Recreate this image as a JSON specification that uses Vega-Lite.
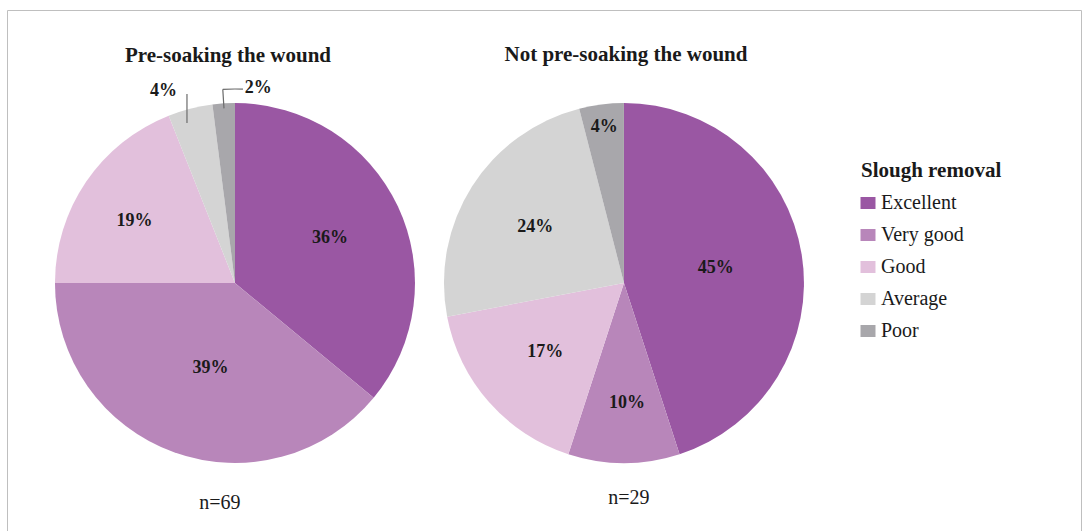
{
  "$schema": "https://vega.github.io/schema/vega-lite/v6.json",
  "width": 1074,
  "height": 546,
  "autosize": {"type": "none"},
  "padding": {"left": 7, "top": 10, "right": 4, "bottom": 0},
  "background": "white",
  "config": {
    "font": "Liberation Serif",
    "view": {"stroke": "#bfbfbf", "strokeWidth": 1},
    "text": {"color": "#1a1a1a"}
  },
  "datasets": {
    "shares": [
      {"group": "Pre-soaking the wound", "rating": "Excellent", "rank": 1, "pct": 36},
      {"group": "Pre-soaking the wound", "rating": "Very good", "rank": 2, "pct": 39},
      {"group": "Pre-soaking the wound", "rating": "Good", "rank": 3, "pct": 19},
      {"group": "Pre-soaking the wound", "rating": "Average", "rank": 4, "pct": 4},
      {"group": "Pre-soaking the wound", "rating": "Poor", "rank": 5, "pct": 2},
      {"group": "Not pre-soaking the wound", "rating": "Excellent", "rank": 1, "pct": 45},
      {"group": "Not pre-soaking the wound", "rating": "Very good", "rank": 2, "pct": 10},
      {"group": "Not pre-soaking the wound", "rating": "Good", "rank": 3, "pct": 17},
      {"group": "Not pre-soaking the wound", "rating": "Average", "rank": 4, "pct": 24},
      {"group": "Not pre-soaking the wound", "rating": "Poor", "rank": 5, "pct": 4}
    ],
    "panels": [
      {"group": "Pre-soaking the wound", "n": "n=69"},
      {"group": "Not pre-soaking the wound", "n": "n=29"}
    ]
  },
  "layer": [
    {
      "data": {"name": "shares"},
      "transform": [
        {"stack": "pct", "groupby": ["group"], "sort": [{"field": "rank", "order": "ascending"}], "as": ["p0", "p1"]},
        {"calculate": "(datum.p0 + datum.p1) / 2", "as": "pmid"},
        {"calculate": "datum.pct + '%'", "as": "label"}
      ],
      "layer": [
        {
          "mark": {"type": "arc", "radius": 180},
          "encoding": {
            "x": {
              "field": "group",
              "type": "nominal",
              "axis": null,
              "scale": {
                "type": "point",
                "domain": ["Pre-soaking the wound", "Not pre-soaking the wound"],
                "padding": 0.8805,
                "align": 0.3328
              }
            },
            "theta": {"field": "p0", "type": "quantitative", "stack": null, "scale": {"domain": [0, 100]}},
            "theta2": {"field": "p1"},
            "color": {
              "field": "rating",
              "type": "nominal",
              "scale": {
                "domain": ["Excellent", "Very good", "Good", "Average", "Poor"],
                "range": ["#9a57a3", "#b886ba", "#e2c0dc", "#d4d4d4", "#a8a7ab"]
              },
              "legend": {
                "title": "Slough removal",
                "orient": "none",
                "legendX": 854,
                "legendY": 150,
                "padding": 0,
                "symbolType": "M-1,-0.8H1V0.8H-1Z",
                "symbolSize": 225,
                "symbolStrokeWidth": 0,
                "symbolOpacity": 1,
                "symbolOffset": -3,
                "titleFontSize": 21,
                "titleFontWeight": "bold",
                "titleColor": "#1a1a1a",
                "titlePadding": 12,
                "labelFontSize": 20,
                "labelColor": "#1a1a1a",
                "labelOffset": 3,
                "rowPadding": 12
              }
            }
          }
        },
        {
          "transform": [{"filter": "datum.group === 'Pre-soaking the wound' && datum.rating === 'Very good'"}],
          "mark": {"type": "text", "fontSize": 18, "fontWeight": "bold", "align": "center", "baseline": "middle", "dx": 6},
          "encoding": {
            "x": {"field": "group", "type": "nominal", "axis": null},
            "theta": {"field": "pmid", "type": "quantitative", "stack": null},
            "radius": {"value": 90},
            "text": {"field": "label"}
          }
        },
        {
          "transform": [{"filter": "datum.group === 'Not pre-soaking the wound' && datum.rating === 'Excellent'"}],
          "mark": {"type": "text", "fontSize": 18, "fontWeight": "bold", "align": "center", "baseline": "middle"},
          "encoding": {
            "x": {"field": "group", "type": "nominal", "axis": null},
            "theta": {"field": "pmid", "type": "quantitative", "stack": null},
            "radius": {"value": 93},
            "text": {"field": "label"}
          }
        },
        {
          "transform": [{"filter": "(datum.group === 'Pre-soaking the wound' && datum.rating === 'Excellent') || (datum.group === 'Not pre-soaking the wound' && (datum.rating === 'Good' || datum.rating === 'Average'))"}],
          "mark": {"type": "text", "fontSize": 18, "fontWeight": "bold", "align": "center", "baseline": "middle"},
          "encoding": {
            "x": {"field": "group", "type": "nominal", "axis": null},
            "theta": {"field": "pmid", "type": "quantitative", "stack": null},
            "radius": {"value": 105},
            "text": {"field": "label"}
          }
        },
        {
          "transform": [{"filter": "datum.group === 'Pre-soaking the wound' && datum.rating === 'Good'"}],
          "mark": {"type": "text", "fontSize": 18, "fontWeight": "bold", "align": "center", "baseline": "middle", "dx": -2, "dy": 5},
          "encoding": {
            "x": {"field": "group", "type": "nominal", "axis": null},
            "theta": {"field": "pmid", "type": "quantitative", "stack": null},
            "radius": {"value": 119},
            "text": {"field": "label"}
          }
        },
        {
          "transform": [{"filter": "datum.group === 'Not pre-soaking the wound' && datum.rating === 'Very good'"}],
          "mark": {"type": "text", "fontSize": 18, "fontWeight": "bold", "align": "center", "baseline": "middle", "dx": 3},
          "encoding": {
            "x": {"field": "group", "type": "nominal", "axis": null},
            "theta": {"field": "pmid", "type": "quantitative", "stack": null},
            "radius": {"value": 120},
            "text": {"field": "label"}
          }
        },
        {
          "transform": [{"filter": "datum.group === 'Not pre-soaking the wound' && datum.rating === 'Poor'"}],
          "mark": {"type": "text", "fontSize": 18, "fontWeight": "bold", "align": "center", "baseline": "middle"},
          "encoding": {
            "x": {"field": "group", "type": "nominal", "axis": null},
            "theta": {"field": "pmid", "type": "quantitative", "stack": null},
            "radius": {"value": 157},
            "text": {"field": "label"}
          }
        },
        {
          "transform": [{"filter": "datum.group === 'Pre-soaking the wound' && datum.rating === 'Average'"}],
          "layer": [
            {
              "mark": {"type": "point", "shape": "M0,-1V1", "size": 841, "filled": false, "opacity": 1, "stroke": "#6b6b6b", "strokeWidth": 1.2, "xOffset": -48, "yOffset": -174.5},
              "encoding": {
                "x": {"field": "group", "type": "nominal", "axis": null}
              }
            },
            {
              "mark": {"type": "text", "fontSize": 18, "fontWeight": "bold", "align": "center", "baseline": "middle", "dx": -23, "dy": -3},
              "encoding": {
                "x": {"field": "group", "type": "nominal", "axis": null},
                "theta": {"field": "pmid", "type": "quantitative", "stack": null},
                "radius": {"value": 195},
                "text": {"field": "label"}
              }
            }
          ]
        },
        {
          "transform": [{"filter": "datum.group === 'Pre-soaking the wound' && datum.rating === 'Poor'"}],
          "layer": [
            {
              "mark": {"type": "arc", "radius": 194, "radius2": 175, "stroke": "#6b6b6b", "strokeWidth": 1.2, "fillOpacity": 0},
              "encoding": {
                "x": {"field": "group", "type": "nominal", "axis": null},
                "theta": {"field": "pmid", "type": "quantitative", "stack": null},
                "theta2": {"field": "pmid"}
              }
            },
            {
              "mark": {"type": "arc", "radius": 194, "radius2": 194, "theta2Offset": 0.104, "stroke": "#6b6b6b", "strokeWidth": 1.2, "fillOpacity": 0},
              "encoding": {
                "x": {"field": "group", "type": "nominal", "axis": null},
                "theta": {"field": "pmid", "type": "quantitative", "stack": null},
                "theta2": {"field": "pmid"}
              }
            },
            {
              "mark": {"type": "text", "fontSize": 18, "fontWeight": "bold", "align": "left", "baseline": "middle", "dx": 22, "dy": -1},
              "encoding": {
                "x": {"field": "group", "type": "nominal", "axis": null},
                "theta": {"field": "pmid", "type": "quantitative", "stack": null},
                "radius": {"value": 194},
                "text": {"field": "label"}
              }
            }
          ]
        }
      ]
    },
    {
      "data": {"name": "panels"},
      "layer": [
        {
          "transform": [{"filter": "datum.group === 'Pre-soaking the wound'"}],
          "layer": [
            {
              "mark": {"type": "text", "fontSize": 21, "fontWeight": "bold", "align": "center", "baseline": "alphabetic", "dx": -7},
              "encoding": {
                "x": {"field": "group", "type": "nominal", "axis": null},
                "theta": {"value": 0},
                "radius": {"value": 221},
                "text": {"field": "group"}
              }
            },
            {
              "mark": {"type": "text", "fontSize": 20, "align": "center", "baseline": "alphabetic", "dx": -15},
              "encoding": {
                "x": {"field": "group", "type": "nominal", "axis": null},
                "theta": {"value": 3.14159265},
                "radius": {"value": 226},
                "text": {"field": "n"}
              }
            }
          ]
        },
        {
          "transform": [{"filter": "datum.group === 'Not pre-soaking the wound'"}],
          "layer": [
            {
              "mark": {"type": "text", "fontSize": 21, "fontWeight": "bold", "align": "center", "baseline": "alphabetic", "dx": 2},
              "encoding": {
                "x": {"field": "group", "type": "nominal", "axis": null},
                "theta": {"value": 0},
                "radius": {"value": 222},
                "text": {"field": "group"}
              }
            },
            {
              "mark": {"type": "text", "fontSize": 20, "align": "center", "baseline": "alphabetic", "dx": 5},
              "encoding": {
                "x": {"field": "group", "type": "nominal", "axis": null},
                "theta": {"value": 3.14159265},
                "radius": {"value": 221},
                "text": {"field": "n"}
              }
            }
          ]
        }
      ]
    }
  ]
}
